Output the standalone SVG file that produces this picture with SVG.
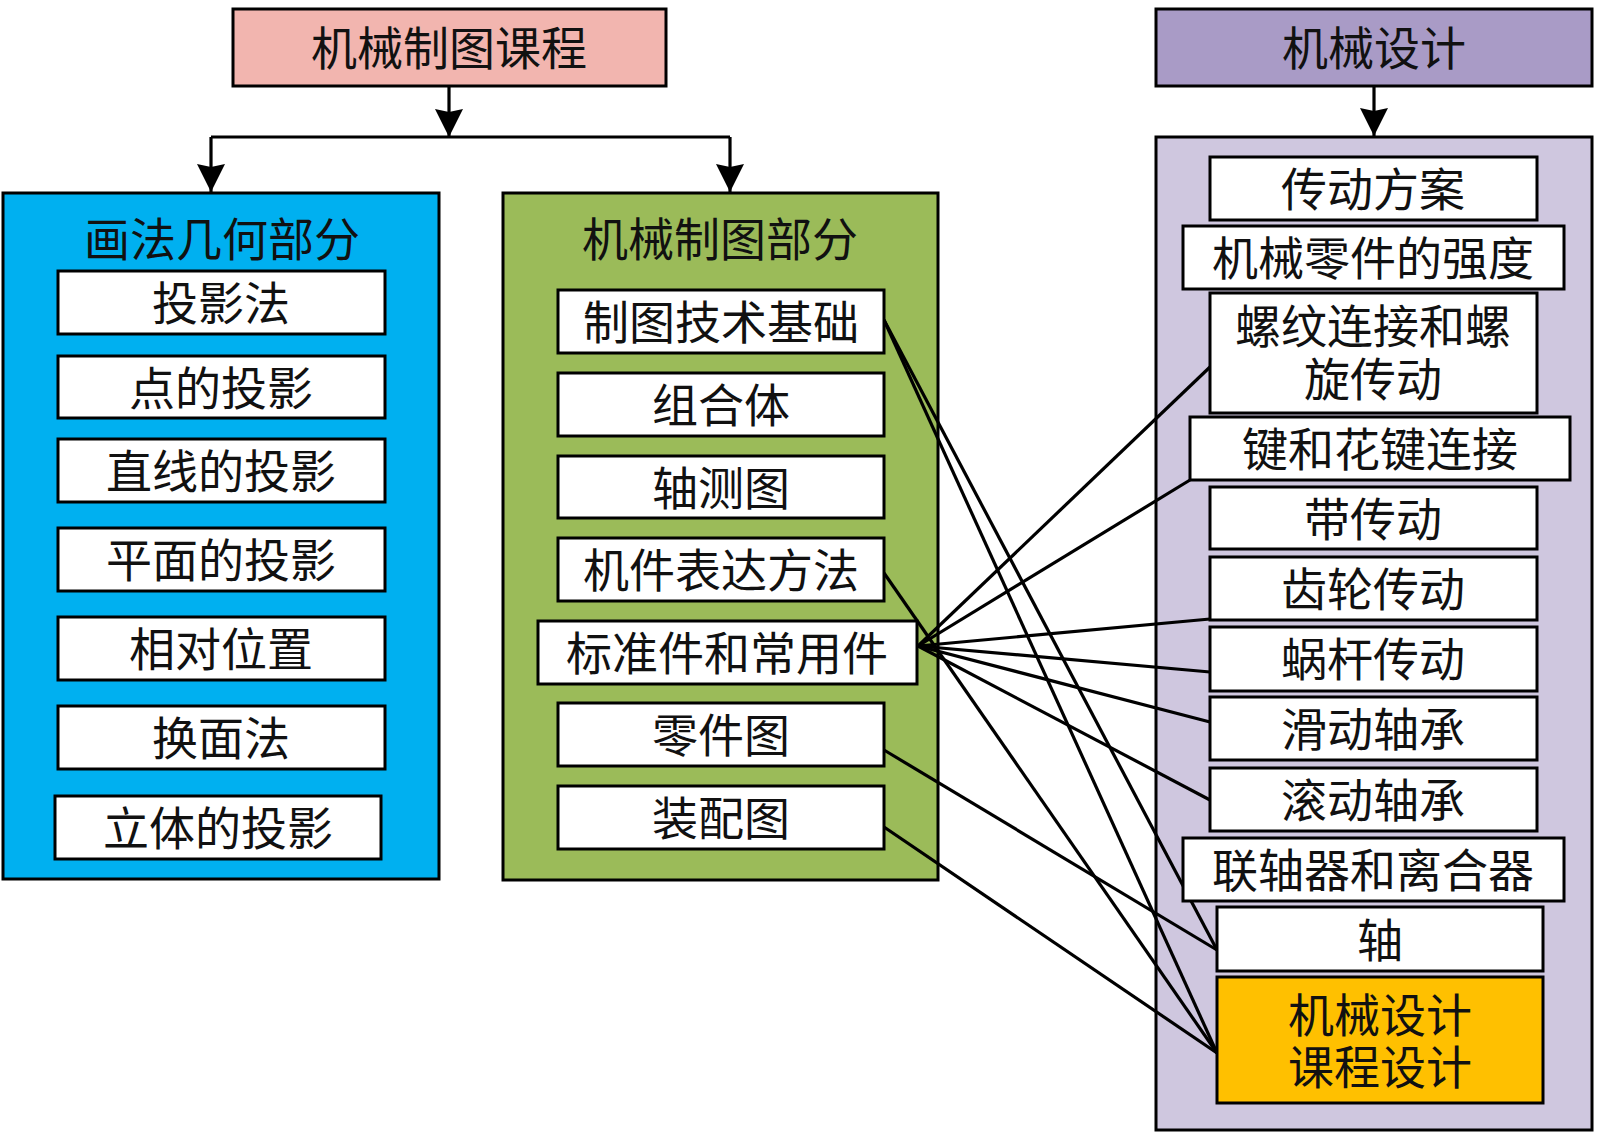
<svg xmlns="http://www.w3.org/2000/svg" width="1600" height="1143" viewBox="0 0 1600 1143">
<defs>
<style>
rect{stroke:#000;stroke-width:3}
.w{fill:#fff}
text{font-family:"Liberation Sans","Noto Sans CJK SC",sans-serif;font-size:46px;fill:#111;text-anchor:middle;dominant-baseline:central}
.c line,.c path{stroke:#000;stroke-width:3.2;fill:none}
</style>
<marker id="ah" viewBox="0 0 28 28" refX="28" refY="14" markerWidth="28" markerHeight="28" markerUnits="userSpaceOnUse" orient="auto">
<path d="M0,0 L28,14 L0,28 L3,14 Z" fill="#000"/>
</marker>
</defs>
<rect width="1600" height="1143" fill="#fff" style="stroke:none"/>

<g id="course"><rect x="233" y="9" width="433" height="77" fill="#F2B5AF"/><text x="449" y="49">机械制图课程</text></g>
<g id="design"><rect x="1156" y="9" width="436" height="77" fill="#A99BC6"/><text x="1374" y="49">机械设计</text></g>

<g id="geometry"><rect x="3" y="193" width="436" height="686" fill="#00B0F0"/><text x="222" y="240">画法几何部分</text></g>
<g id="drawing"><rect x="503" y="193" width="435" height="687" fill="#9BBB59"/><text x="720" y="240">机械制图部分</text></g>
<g id="designbox"><rect x="1156" y="137" width="436" height="993" fill="#CFC7DF"/></g>

<g class="c" id="connectors">
<line x1="449" y1="86" x2="449" y2="137" marker-end="url(#ah)"/>
<path d="M211,137 H730"/>
<line x1="211" y1="137" x2="211" y2="192" marker-end="url(#ah)"/>
<line x1="730" y1="137" x2="730" y2="192" marker-end="url(#ah)"/>
<line x1="1374" y1="86" x2="1374" y2="136" marker-end="url(#ah)"/>
<line x1="918" y1="646" x2="1210" y2="367"/>
<line x1="918" y1="646" x2="1190" y2="480"/>
<line x1="918" y1="646" x2="1210" y2="619"/>
<line x1="918" y1="646" x2="1210" y2="672"/>
<line x1="918" y1="646" x2="1210" y2="722"/>
<line x1="918" y1="646" x2="1210" y2="800"/>
<line x1="884" y1="320" x2="1217" y2="950"/>
<line x1="884" y1="320" x2="1217" y2="1053"/>
<line x1="884" y1="573" x2="1217" y2="1053"/>
<line x1="884" y1="750" x2="1217" y2="950"/>
<line x1="884" y1="827" x2="1217" y2="1053"/>
</g>

<g id="g1"><rect class="w" x="58" y="271" width="327" height="63"/><text x="221" y="304">投影法</text></g>
<g id="g2"><rect class="w" x="58" y="356" width="327" height="62"/><text x="221" y="389">点的投影</text></g>
<g id="g3"><rect class="w" x="58" y="439" width="327" height="63"/><text x="221" y="472">直线的投影</text></g>
<g id="g4"><rect class="w" x="58" y="528" width="327" height="63"/><text x="221" y="561">平面的投影</text></g>
<g id="g5"><rect class="w" x="58" y="617" width="327" height="63"/><text x="221" y="650">相对位置</text></g>
<g id="g6"><rect class="w" x="58" y="706" width="327" height="63"/><text x="221" y="739">换面法</text></g>
<g id="g7"><rect class="w" x="55" y="796" width="326" height="63"/><text x="218" y="829">立体的投影</text></g>

<g id="d1"><rect class="w" x="558" y="290" width="326" height="63"/><text x="721" y="323">制图技术基础</text></g>
<g id="d2"><rect class="w" x="558" y="373" width="326" height="63"/><text x="721" y="406">组合体</text></g>
<g id="d3"><rect class="w" x="558" y="456" width="326" height="62"/><text x="721" y="489">轴测图</text></g>
<g id="d4"><rect class="w" x="558" y="538" width="326" height="63"/><text x="721" y="571">机件表达方法</text></g>
<g id="d5"><rect class="w" x="538" y="621" width="379" height="63"/><text x="727" y="654">标准件和常用件</text></g>
<g id="d6"><rect class="w" x="558" y="703" width="326" height="63"/><text x="721" y="736">零件图</text></g>
<g id="d7"><rect class="w" x="558" y="786" width="326" height="63"/><text x="721" y="819">装配图</text></g>

<g id="m1"><rect class="w" x="1210" y="157" width="327" height="63"/><text x="1373" y="190">传动方案</text></g>
<g id="m2"><rect class="w" x="1183" y="226" width="381" height="63"/><text x="1373" y="259">机械零件的强度</text></g>
<g id="m3"><rect class="w" x="1210" y="293" width="327" height="120"/><text x="1373" y="327">螺纹连接和螺<tspan x="1373" y="380">旋传动</tspan></text></g>
<g id="m4"><rect class="w" x="1190" y="417" width="380" height="63"/><text x="1380" y="450">键和花键连接</text></g>
<g id="m5"><rect class="w" x="1210" y="487" width="327" height="62"/><text x="1373" y="520">带传动</text></g>
<g id="m6"><rect class="w" x="1210" y="557" width="327" height="63"/><text x="1373" y="590">齿轮传动</text></g>
<g id="m7"><rect class="w" x="1210" y="627" width="327" height="64"/><text x="1373" y="660">蜗杆传动</text></g>
<g id="m8"><rect class="w" x="1210" y="697" width="327" height="63"/><text x="1373" y="730">滑动轴承</text></g>
<g id="m9"><rect class="w" x="1210" y="768" width="327" height="63"/><text x="1373" y="801">滚动轴承</text></g>
<g id="m10"><rect class="w" x="1183" y="838" width="381" height="63"/><text x="1373" y="871">联轴器和离合器</text></g>
<g id="m11"><rect class="w" x="1217" y="907" width="326" height="64"/><text x="1380" y="941">轴</text></g>
<g id="m12"><rect x="1217" y="977" width="326" height="126" fill="#FFC000"/><text x="1380" y="1016">机械设计<tspan x="1380" y="1068">课程设计</tspan></text></g>
</svg>
